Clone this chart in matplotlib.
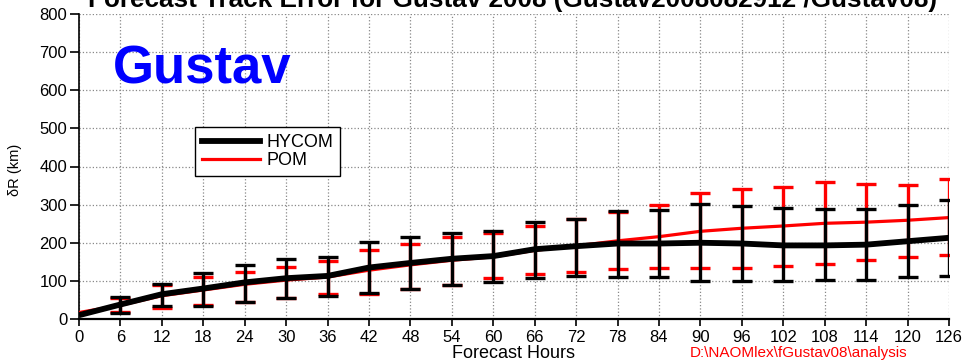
import matplotlib
matplotlib.use("Agg")
import matplotlib.pyplot as plt
from matplotlib.lines import Line2D
import numpy as np

plt.rcParams['font.family'] = ['Liberation Sans', 'DejaVu Sans']

hours = [0, 6, 12, 18, 24, 30, 36, 42, 48, 54, 60, 66, 72, 78, 84, 90, 96, 102, 108, 114, 120, 126]

hycom_mean = [10, 38, 65, 80, 96, 107, 113, 135, 147, 158, 165, 183, 191, 198, 198, 200, 198, 193, 193, 195, 204, 213]
hycom_upper = [10, 58, 93, 120, 141, 157, 163, 201, 215, 226, 230, 254, 261, 282, 287, 302, 296, 291, 289, 289, 300, 311]
hycom_lower = [10, 15, 34, 34, 45, 55, 60, 68, 78, 89, 97, 107, 112, 110, 109, 99, 99, 99, 103, 102, 110, 112]

pom_mean = [17, 36, 61, 76, 91, 102, 110, 128, 142, 154, 163, 180, 192, 205, 216, 230, 238, 244, 251, 254, 259, 266]
pom_upper = [17, 55, 90, 110, 123, 136, 151, 181, 198, 215, 225, 243, 261, 281, 300, 330, 340, 346, 359, 353, 352, 366]
pom_lower = [17, 18, 30, 37, 45, 55, 65, 66, 78, 90, 107, 118, 123, 130, 133, 133, 135, 140, 143, 156, 163, 167]

title = "Forecast Track Error for Gustav 2008 (Gustav2008082912 /Gustav08)"
storm = "Gustav"
path_note = r"D:\NAOMlex\fGustav08\analysis"

W, H = 965, 361
fig = plt.figure(figsize=(W / 100, H / 100), dpi=100)
ax = fig.add_axes([79 / W, 1 - 319 / H, (949 - 79) / W, (319 - 14) / H])

x = np.array(hours)


def draw_model(mean, lower, upper, color, lw, z):
    mean = np.array(mean)
    lo = mean - np.array(lower)
    hi = np.array(upper) - mean
    ax.errorbar(x[1:], mean[1:], yerr=[lo[1:], hi[1:]], fmt='none',
                ecolor=color, elinewidth=2.4, capsize=7.5, capthick=2.4,
                zorder=z)
    ax.plot(x, mean, color=color, lw=lw, zorder=z + 0.5,
            solid_capstyle='butt')


draw_model(pom_mean, pom_lower, pom_upper, '#ff0000', 2.3, 3)
draw_model(hycom_mean, hycom_lower, hycom_upper, 'black', 4.2, 5)

ax.set_xlim(0, 126)
ax.set_ylim(0, 800)
ax.set_xticks(hours)
ax.set_yticks(np.arange(0, 801, 100))
ax.grid(True, linestyle=':', color='#888888', lw=0.9)
ax.set_axisbelow(True)
for s in ['top', 'right']:
    ax.spines[s].set_visible(False)
ax.spines['left'].set_linewidth(1.2)
ax.spines['bottom'].set_linewidth(1.6)
ax.tick_params(axis='y', direction='out', length=6.5, width=1.2, labelsize=12, pad=2)
ax.tick_params(axis='x', direction='out', length=5, width=1.2, labelsize=12, pad=3)

ax.set_xlabel("Forecast Hours", fontsize=13, labelpad=0)
fig.text(15 / W, 1 - 170 / H, "δR (km)", rotation=90, ha='center', va='center', fontsize=10.5)

fig.text(512 / W, 1 - 7 / H, title, ha='center', va='baseline',
         fontsize=18.8, fontweight='bold')
fig.text(113 / W, 1 - 83 / H, storm, ha='left', va='baseline',
         fontsize=38, fontweight='bold', color='#0000ff')
fig.text(690 / W, 1 - 357 / H, path_note, ha='left', va='baseline',
         fontsize=11, color='#ff0000')

handles = [Line2D([], [], color='black', lw=4.2), Line2D([], [], color='#ff0000', lw=2.3)]
leg = fig.legend(handles, ['HYCOM', 'POM'], loc='upper left',
                 bbox_to_anchor=(195 / W, 1 - 127 / H), fontsize=13,
                 frameon=True, fancybox=False, framealpha=1, edgecolor='black',
                 handlelength=3.2, handletextpad=0.35, borderpad=0.4,
                 labelspacing=0.05, borderaxespad=0)
leg.get_frame().set_linewidth(1.0)

fig.savefig("out.png", dpi=100)
